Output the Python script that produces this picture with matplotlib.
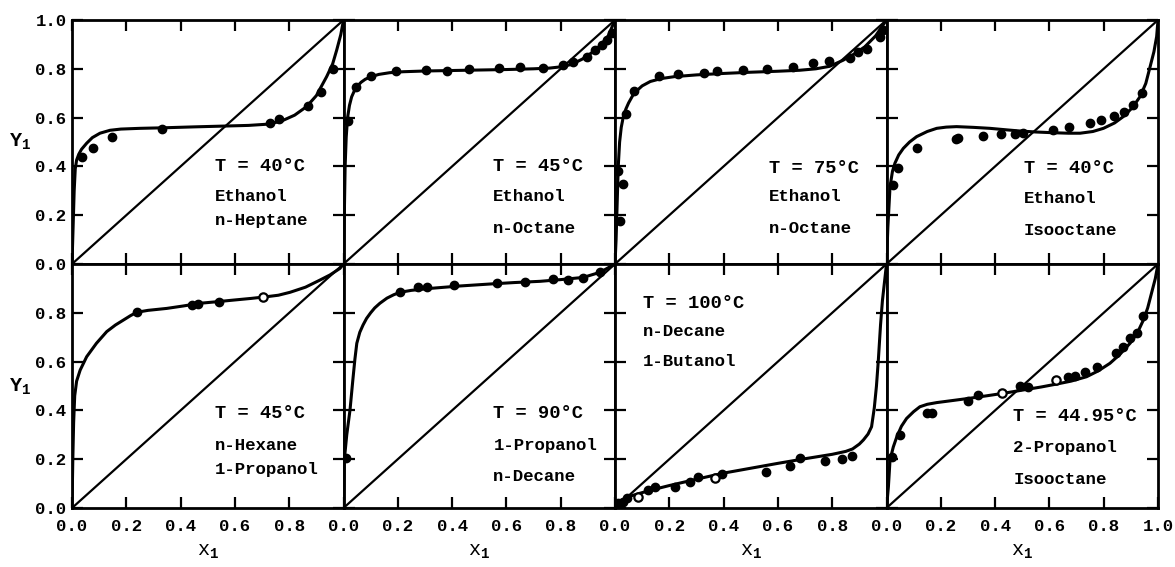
import matplotlib
matplotlib.use('Agg')
from matplotlib import pyplot as plt

plt.rcParams['font.family'] = ['Liberation Mono', 'DejaVu Sans Mono']
plt.rcParams['font.weight'] = 'bold'
plt.rcParams['mathtext.fontset'] = 'custom'
plt.rcParams['mathtext.rm'] = 'Liberation Mono:bold'
plt.rcParams['mathtext.it'] = 'Liberation Mono:bold'

# ---- panel labels (row by row) ----
temps = ['T = 40°C', 'T = 45°C', 'T = 75°C', 'T = 40°C',
         'T = 45°C', 'T = 90°C', 'T = 100°C', 'T = 44.95°C']
comp1 = ['Ethanol', 'Ethanol', 'Ethanol', 'Ethanol',
         'n-Hexane', '1-Propanol', 'n-Decane', '2-Propanol']
comp2 = ['n-Heptane', 'n-Octane', 'n-Octane', 'Isooctane',
         '1-Propanol', 'n-Decane', '1-Butanol', 'Isooctane']

x_ticks = [0.0, 0.2, 0.4, 0.6, 0.8, 1.0]
y_ticks = [0.0, 0.2, 0.4, 0.6, 0.8, 1.0]

# ---- Ethanol / n-Heptane, 40 C ----
p1_x = [0.036, 0.076, 0.146, 0.331, 0.729, 0.764, 0.868, 0.916, 0.963]
p1_y = [0.44, 0.476, 0.52, 0.554, 0.577, 0.594, 0.648, 0.706, 0.798]
f1_x = [0, 0.004, 0.008, 0.012, 0.017, 0.025, 0.035, 0.054, 0.075, 0.103,
        0.14, 0.18, 0.25, 0.33, 0.45, 0.55, 0.65, 0.72, 0.77, 0.82, 0.864,
        0.9, 0.938, 0.96, 0.975, 0.99, 1.0]
f1_y = [0, 0.15, 0.3, 0.39, 0.426, 0.45, 0.47, 0.495, 0.518, 0.536,
        0.548, 0.553, 0.556, 0.558, 0.562, 0.565, 0.568, 0.573, 0.585, 0.61,
        0.645, 0.69, 0.768, 0.82, 0.877, 0.94, 1.0]

# ---- Ethanol / n-Octane, 45 C ----
p2_x = [0.018, 0.045, 0.1, 0.193, 0.303, 0.382, 0.462, 0.573, 0.65, 0.734,
        0.807, 0.846, 0.896, 0.926, 0.951, 0.969, 0.988]
p2_y = [0.587, 0.724, 0.77, 0.791, 0.795, 0.792, 0.798, 0.802, 0.809, 0.802,
        0.816, 0.829, 0.85, 0.877, 0.898, 0.92, 0.945]
f2_x = [0, 0.003, 0.006, 0.01, 0.015, 0.022, 0.03, 0.04, 0.05, 0.065, 0.08,
        0.1, 0.13, 0.17, 0.22, 0.3, 0.4, 0.5, 0.6, 0.7, 0.76, 0.8, 0.84,
        0.88, 0.92, 0.95, 0.975, 1.0]
f2_y = [0, 0.2, 0.4, 0.52, 0.6, 0.65, 0.685, 0.71, 0.728, 0.745, 0.757,
        0.767, 0.777, 0.784, 0.788, 0.791, 0.793, 0.795, 0.797, 0.8, 0.803,
        0.808, 0.818, 0.84, 0.87, 0.9, 0.935, 1.0]

# ---- Ethanol / n-Octane, 75 C ----
p3_x = [0.012, 0.018, 0.028, 0.041, 0.071, 0.162, 0.233, 0.328, 0.377,
        0.473, 0.561, 0.654, 0.728, 0.79, 0.866, 0.896, 0.927, 0.976, 0.988]
p3_y = [0.38, 0.177, 0.327, 0.613, 0.71, 0.77, 0.779, 0.784, 0.792,
        0.795, 0.798, 0.809, 0.825, 0.831, 0.846, 0.868, 0.881, 0.932, 0.959]
f3_x = [0, 0.004, 0.008, 0.012, 0.017, 0.023, 0.03, 0.04, 0.05, 0.065, 0.08,
        0.1, 0.13, 0.17, 0.22, 0.3, 0.4, 0.5, 0.6, 0.68, 0.74, 0.79, 0.84,
        0.88, 0.92, 0.96, 1.0]
f3_y = [0, 0.1, 0.25, 0.4, 0.5, 0.56, 0.6, 0.635, 0.66, 0.69, 0.71,
        0.73, 0.748, 0.76, 0.768, 0.775, 0.781, 0.786, 0.79, 0.794, 0.8,
        0.81, 0.835, 0.86, 0.89, 0.935, 1.0]

# ---- Ethanol / Isooctane, 40 C ----
p4_x = [0.023, 0.044, 0.111, 0.256, 0.265, 0.354, 0.422, 0.473, 0.502,
        0.612, 0.673, 0.75, 0.79, 0.839, 0.876, 0.909, 0.94]
p4_y = [0.324, 0.392, 0.474, 0.511, 0.518, 0.525, 0.533, 0.533, 0.538,
        0.549, 0.56, 0.577, 0.59, 0.607, 0.624, 0.652, 0.702]
f4_x = [0, 0.005, 0.013, 0.022, 0.031, 0.045, 0.062, 0.085, 0.111, 0.15,
        0.185, 0.22, 0.258, 0.32, 0.381, 0.44, 0.492, 0.55, 0.614, 0.67,
        0.713, 0.76, 0.799, 0.84, 0.872, 0.905, 0.934, 0.955, 0.971, 0.985,
        0.995, 1.0]
f4_y = [0, 0.15, 0.317, 0.38, 0.413, 0.447, 0.474, 0.5, 0.522, 0.543,
        0.556, 0.561, 0.563, 0.56, 0.556, 0.55, 0.545, 0.541, 0.538, 0.536,
        0.536, 0.543, 0.556, 0.578, 0.604, 0.64, 0.686, 0.74, 0.809, 0.87,
        0.932, 1.0]

# ---- n-Hexane / 1-Propanol, 45 C ----
p5_x = [0.238, 0.441, 0.465, 0.543]
p5_y = [0.804, 0.834, 0.836, 0.846]
o5_x = [0.705]
o5_y = [0.864]
f5_x = [0, 0.003, 0.006, 0.01, 0.017, 0.03, 0.054, 0.09, 0.128, 0.16, 0.189,
        0.215, 0.238, 0.28, 0.349, 0.41, 0.471, 0.53, 0.594, 0.66, 0.717,
        0.76, 0.803, 0.86, 0.913, 0.95, 0.987, 1.0]
f5_y = [0, 0.2, 0.35, 0.46, 0.52, 0.565, 0.62, 0.675, 0.723, 0.75, 0.77,
        0.788, 0.802, 0.81, 0.818, 0.828, 0.839, 0.845, 0.852, 0.859, 0.866,
        0.872, 0.884, 0.905, 0.934, 0.955, 0.982, 1.0]

# ---- 1-Propanol / n-Decane, 90 C ----
p6_x = [0.009, 0.208, 0.276, 0.309, 0.408, 0.564, 0.669, 0.773, 0.828,
        0.883, 0.945]
p6_y = [0.204, 0.884, 0.907, 0.907, 0.914, 0.923, 0.927, 0.939, 0.934,
        0.941, 0.966]
f6_x = [0, 0.003, 0.012, 0.024, 0.034, 0.042, 0.049, 0.06, 0.072, 0.085,
        0.1, 0.115, 0.134, 0.16, 0.185, 0.208, 0.25, 0.319, 0.43, 0.54,
        0.63, 0.724, 0.8, 0.883, 0.945, 1.0]
f6_y = [0, 0.197, 0.3, 0.402, 0.52, 0.61, 0.675, 0.72, 0.75, 0.777,
        0.8, 0.82, 0.839, 0.86, 0.874, 0.884, 0.892, 0.9, 0.91, 0.918,
        0.924, 0.929, 0.936, 0.945, 0.966, 1.0]

# ---- n-Decane / 1-Butanol, 100 C ----
p7_x = [0.012, 0.031, 0.043, 0.123, 0.147, 0.221, 0.276, 0.307, 0.393,
        0.556, 0.645, 0.681, 0.773, 0.835, 0.872]
p7_y = [0.019, 0.026, 0.04, 0.074, 0.085, 0.087, 0.108, 0.126, 0.139,
        0.149, 0.172, 0.204, 0.194, 0.201, 0.213]
o7_x = [0.086, 0.368]
o7_y = [0.044, 0.122]
f7_x = [0, 0.015, 0.03, 0.06, 0.1, 0.15, 0.2, 0.3, 0.4, 0.5, 0.6, 0.7, 0.8,
        0.85, 0.875, 0.9, 0.915, 0.932, 0.945, 0.955, 0.963, 0.97, 0.978,
        0.985, 0.993, 1.0]
f7_y = [0, 0.018, 0.033, 0.05, 0.063, 0.078, 0.092, 0.118, 0.143, 0.163,
        0.183, 0.202, 0.22, 0.232, 0.242, 0.262, 0.279, 0.303, 0.333, 0.41,
        0.5, 0.607, 0.75, 0.85, 0.93, 1.0]

# ---- 2-Propanol / Isooctane, 44.95 C ----
p8_x = [0.019, 0.05, 0.148, 0.166, 0.299, 0.338, 0.492, 0.522, 0.67, 0.694,
        0.731, 0.774, 0.845, 0.872, 0.897, 0.921, 0.946]
p8_y = [0.21, 0.299, 0.388, 0.391, 0.439, 0.463, 0.5, 0.495, 0.536, 0.541,
        0.559, 0.579, 0.634, 0.659, 0.698, 0.718, 0.787]
o8_x = [0.424, 0.624]
o8_y = [0.473, 0.525]
f8_x = [0, 0.007, 0.013, 0.025, 0.038, 0.055, 0.074, 0.1, 0.123, 0.15,
        0.185, 0.24, 0.308, 0.37, 0.43, 0.516, 0.57, 0.627, 0.68, 0.737,
        0.78, 0.823, 0.86, 0.897, 0.925, 0.946, 0.962, 0.976, 0.99, 1.0]
f8_y = [0, 0.087, 0.197, 0.25, 0.292, 0.335, 0.367, 0.395, 0.415, 0.425,
        0.432, 0.44, 0.45, 0.46, 0.47, 0.486, 0.496, 0.508, 0.52, 0.538,
        0.562, 0.593, 0.63, 0.675, 0.72, 0.77, 0.82, 0.88, 0.94, 1.0]

points = [(p1_x, p1_y), (p2_x, p2_y), (p3_x, p3_y), (p4_x, p4_y),
          (p5_x, p5_y), (p6_x, p6_y), (p7_x, p7_y), (p8_x, p8_y)]
open_points = [None, None, None, None,
               (o5_x, o5_y), None, (o7_x, o7_y), (o8_x, o8_y)]
fits = [(f1_x, f1_y), (f2_x, f2_y), (f3_x, f3_y), (f4_x, f4_y),
        (f5_x, f5_y), (f6_x, f6_y), (f7_x, f7_y), (f8_x, f8_y)]

# where the three label lines go in each panel (axes fraction)
label_pos = [(0.527, [0.40, 0.278, 0.18]),
             (0.55, [0.40, 0.275, 0.147]),
             (0.568, [0.392, 0.276, 0.146]),
             (0.506, [0.392, 0.269, 0.139]),
             (0.527, [0.388, 0.258, 0.156]),
             (0.552, [0.388, 0.258, 0.128]),
             (0.102, [0.839, 0.723, 0.60]),
             (0.467, [0.377, 0.247, 0.115])]

fig, axes = plt.subplots(2, 4, figsize=(11.75, 5.67), dpi=100)
fig.subplots_adjust(left=72 / 1175, right=1158 / 1175, top=1 - 20 / 567,
                    bottom=1 - 508 / 567, wspace=0, hspace=0)

for i, ax in enumerate(axes.flat):
    row, col = divmod(i, 4)
    ax.plot([0, 1], [0, 1], c='k', lw=1.6)
    fx, fy = fits[i]
    ax.plot(fx, fy, c='k', lw=2.2, solid_joinstyle='round')
    px, py = points[i]
    ax.plot(px, py, 'o', c='k', ms=6)
    if open_points[i] is not None:
        ox, oy = open_points[i]
        ax.plot(ox, oy, 'o', mfc='white', mec='k', mew=1.6, ms=6)

    lx, lys = label_pos[i]
    for txt, ly in zip([temps[i], comp1[i], comp2[i]], lys):
        size = 13.5 if txt.startswith('T') else 12.5
        ax.text(lx, ly, txt, transform=ax.transAxes, fontsize=size,
                ha='left', va='center')

    ax.set_xlim(0, 1)
    ax.set_ylim(0, 1)
    for s in ax.spines.values():
        s.set_linewidth(2.0)
    ax.tick_params(direction='in', length=8, width=1.6, top=True, right=True,
                   labelsize=12.5)
    ax.tick_params(axis='x', pad=8)
    ax.tick_params(axis='y', pad=4)

    if col == 3 and row == 1:
        ax.set_xticks(x_ticks)
        ax.set_xticklabels(['%.1f' % v for v in x_ticks])
    else:
        ax.set_xticks(x_ticks[:-1])
        ax.set_xticklabels(['%.1f' % v for v in x_ticks[:-1]])
    if row == 0:
        ax.tick_params(axis='x', labelbottom=False)
    else:
        ax.set_xlabel('x$_1$', fontsize=14.5, labelpad=6)

    if row == 0:
        ax.set_yticks(y_ticks)
        ax.set_yticklabels(['%.1f' % v for v in y_ticks])
    else:
        ax.set_yticks(y_ticks[:-1])
        ax.set_yticklabels(['%.1f' % v for v in y_ticks[:-1]])
    if col != 0:
        ax.tick_params(axis='y', labelleft=False)

fig.text(20 / 1175, 1 - 142 / 567, 'Y$_1$', fontsize=14.5, ha='center',
         va='center')
fig.text(20 / 1175, 1 - 387 / 567, 'Y$_1$', fontsize=14.5, ha='center',
         va='center')

fig.savefig('out.png', dpi=100)
